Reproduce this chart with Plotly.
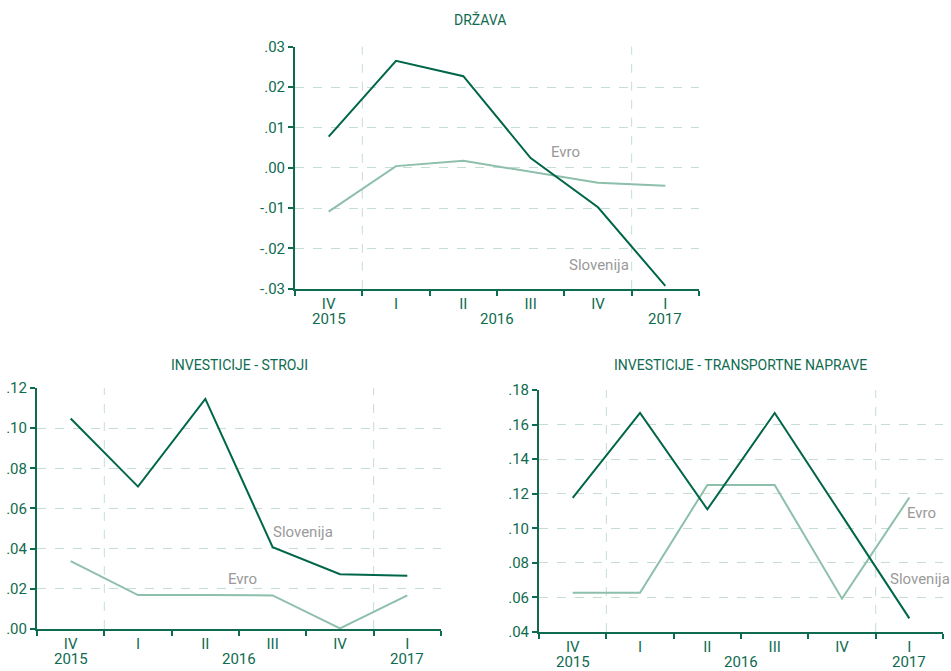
import plotly.graph_objects as go

periods = ["2015Q4", "2016Q1", "2016Q2", "2016Q3", "2016Q4", "2017Q1"]
quarter_labels = ["IV", "I", "II", "III", "IV", "I"]
year_labels = ["2015", "2016", "2017"]
year_positions = [0, 2.5, 5]

titles = ["DRŽAVA", "INVESTICIJE - STROJI", "INVESTICIJE - TRANSPORTNE NAPRAVE"]

drzava_slo = [0.0077, 0.0265, 0.0227, 0.0024, -0.0098, -0.0293]
drzava_evro = [-0.0109, 0.0004, 0.0017, -0.0010, -0.0037, -0.0045]

stroji_slo = [0.1048, 0.0709, 0.1146, 0.0407, 0.0273, 0.0265]
stroji_evro = [0.0338, 0.0169, 0.0169, 0.0167, 0.0003, 0.0167]

transp_slo = [0.1176, 0.1667, 0.1110, 0.1667, 0.1073, 0.0479]
transp_evro = [0.0627, 0.0627, 0.1251, 0.1250, 0.0593, 0.1178]

drzava_ticks = [-0.03, -0.02, -0.01, 0.00, 0.01, 0.02, 0.03]
drzava_ticktext = ["-.03", "-.02", "-.01", ".00", ".01", ".02", ".03"]
stroji_ticks = [0.00, 0.02, 0.04, 0.06, 0.08, 0.10, 0.12]
stroji_ticktext = [".00", ".02", ".04", ".06", ".08", ".10", ".12"]
transp_ticks = [0.04, 0.06, 0.08, 0.10, 0.12, 0.14, 0.16, 0.18]
transp_ticktext = [".04", ".06", ".08", ".10", ".12", ".14", ".16", ".18"]

DARK = "#00664a"
LIGHT = "#8dbfab"
AXIS = "#0f6b50"
GRID = "#c6ddd4"
LABEL = "#9a9a9a"
FONT = "Roboto, sans-serif"

panels = [
    dict(slo=drzava_slo, evro=drzava_evro, ticks=drzava_ticks, tt=drzava_ticktext,
         xd=[0.3102, 0.7350], yd=[0.5697, 0.9304], title=titles[0], title_x=480, title_y=20,
         evro_lbl=(565, 152), slo_lbl=(599, 265)),
    dict(slo=stroji_slo, evro=stroji_evro, ticks=stroji_ticks, tt=stroji_ticktext,
         xd=[0.0389, 0.4637], yd=[0.0626, 0.4218], title=titles[1], title_x=239, title_y=365,
         evro_lbl=(242, 579), slo_lbl=(303, 532)),
    dict(slo=transp_slo, evro=transp_evro, ticks=transp_ticks, tt=transp_ticktext,
         xd=[0.5668, 0.9916], yd=[0.0581, 0.4188], title=titles[2], title_x=740, title_y=365,
         evro_lbl=(921, 513), slo_lbl=(920, 579)),
]

W, H = 951, 671
fig = go.Figure()
annotations = []
shapes = []


def text_at(txt, px, py, size, color):
    return dict(text=txt, x=px / W, y=1 - py / H, xref="paper", yref="paper",
                xanchor="center", yanchor="middle", showarrow=False,
                font=dict(family=FONT, size=size, color=color))


for i, p in enumerate(panels):
    n = "" if i == 0 else str(i + 1)
    xa, ya = "x" + n, "y" + n
    fig.add_trace(go.Scatter(x=periods, y=p["evro"], mode="lines", xaxis=xa, yaxis=ya,
                             line=dict(color=LIGHT, width=2), showlegend=False, hoverinfo="skip"))
    fig.add_trace(go.Scatter(x=periods, y=p["slo"], mode="lines", xaxis=xa, yaxis=ya,
                             line=dict(color=DARK, width=2), showlegend=False, hoverinfo="skip"))
    xaxis = dict(domain=p["xd"], anchor=ya, type="category", categoryorder="array",
                 categoryarray=periods, range=[-0.5, 5.5], tickvals=periods, ticktext=quarter_labels,
                 tickson="boundaries", ticks="outside", ticklen=5, tickcolor=AXIS, tickwidth=1.5,
                 showline=True, linecolor=AXIS, linewidth=2, showgrid=False, zeroline=False,
                 automargin=False,
                 tickfont=dict(family=FONT, size=15, color=AXIS), fixedrange=True)
    yaxis = dict(domain=p["yd"], anchor=xa, range=[p["ticks"][0], p["ticks"][-1]],
                 tickvals=p["ticks"], ticktext=p["tt"], ticks="outside", ticklen=5,
                 tickcolor=AXIS, tickwidth=1.5, showline=True, linecolor=AXIS, linewidth=2,
                 showgrid=True, gridcolor=GRID, griddash="dash", gridwidth=1, zeroline=False,
                 automargin=False,
                 tickfont=dict(family=FONT, size=15, color=AXIS), fixedrange=True)
    fig.update_layout(**{"xaxis" + n: xaxis, "yaxis" + n: yaxis})
    for b in (0.5, 4.5):
        shapes.append(dict(type="line", xref=xa, yref=ya + " domain", x0=b, x1=b, y0=0, y1=1,
                           line=dict(color=GRID, width=1, dash="dash"), layer="below"))
    for yl, yp in zip(year_labels, year_positions):
        annotations.append(dict(text=yl, x=yp, xref=xa, y=p["yd"][0], yref="paper",
                                yshift=-19, yanchor="top", xanchor="center", showarrow=False,
                                font=dict(family=FONT, size=15, color=AXIS)))
    annotations.append(text_at(p["title"], p["title_x"], p["title_y"], 14, AXIS))
    annotations.append(text_at("Evro", *p["evro_lbl"], 15, LABEL))
    annotations.append(text_at("Slovenija", *p["slo_lbl"], 15, LABEL))

fig.update_layout(width=W, height=H, margin=dict(l=0, r=0, t=0, b=0, autoexpand=False),
                  paper_bgcolor="white", plot_bgcolor="white",
                  annotations=annotations, shapes=shapes, showlegend=False)

fig.write_html("out.html", config={"displayModeBar": False},
               post_script="document.body.style.margin='0';document.body.style.overflow='hidden';")
